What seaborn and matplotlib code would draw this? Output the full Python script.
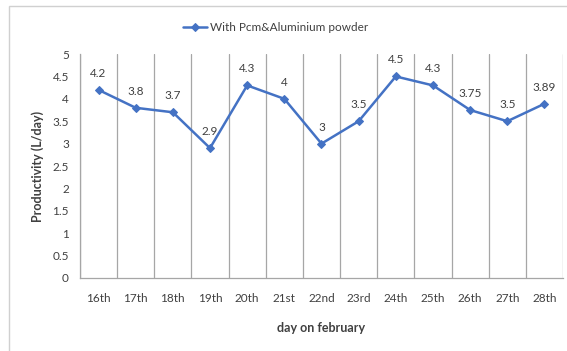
import matplotlib
matplotlib.use("Agg")
import matplotlib.pyplot as plt
from matplotlib.patches import Rectangle
import seaborn as sns
import pandas as pd
import numpy as np

days = ["16th", "17th", "18th", "19th", "20th", "21st", "22nd",
        "23rd", "24th", "25th", "26th", "27th", "28th"]
productivity = [4.2, 3.8, 3.7, 2.9, 4.3, 4.0, 3.0, 3.5, 4.5, 4.3, 3.75, 3.5, 3.89]
value_labels = ["4.2", "3.8", "3.7", "2.9", "4.3", "4", "3", "3.5", "4.5",
                "4.3", "3.75", "3.5", "3.89"]
y_ticks = [0, 0.5, 1, 1.5, 2, 2.5, 3, 3.5, 4, 4.5, 5]
y_tick_labels = ["0", "0.5", "1", "1.5", "2", "2.5", "3", "3.5", "4", "4.5", "5"]
series_name = "With Pcm&Aluminium powder"

sns.set_style("white")
plt.rcParams["font.family"] = ["Lato", "DejaVu Sans"]

df = pd.DataFrame({"day": days, "productivity": productivity})
df["pos"] = np.arange(len(days))

blue = "#4472C4"
text_col = "#404040"

fig = plt.figure(figsize=(5.67, 3.51), dpi=100)
ax = fig.add_axes([0.141, 0.208, 0.852, 0.638])

# chart frame
fig.patches.append(Rectangle((9 / 567, -0.1), 1.2, 1 - 6 / 351 + 0.1,
                             transform=fig.transFigure, fill=False,
                             edgecolor="#d0d0d0", linewidth=1.0))

sns.lineplot(data=df, x="pos", y="productivity", marker="D", markersize=4.3,
             color=blue, linewidth=1.8, markeredgecolor=blue, ax=ax,
             label=series_name, sort=False)

for x, y, t in zip(df["pos"], df["productivity"], value_labels):
    ax.annotate(t, (x, y), xytext=(0, 8), textcoords="offset points",
                ha="center", va="bottom", fontsize=8.5, color=text_col)

ax.set_xlim(-0.5, len(days) - 0.5)
ax.set_ylim(0, 5)
ax.set_xticks(range(len(days)))
ax.set_xticklabels(days, fontsize=8.5, color=text_col)
ax.set_yticks(y_ticks)
ax.set_yticklabels(y_tick_labels, fontsize=8.5, color=text_col)

# vertical gridlines on category boundaries
for b in np.arange(-0.5, len(days), 1.0):
    ax.axvline(b, color="#a6a6a6", linewidth=0.9, zorder=0)

ax.tick_params(axis="x", length=0, pad=11)
ax.tick_params(axis="y", length=0, pad=8)
for side in ["top", "right"]:
    ax.spines[side].set_visible(False)
for side in ["left", "bottom"]:
    ax.spines[side].set_color("#a6a6a6")
    ax.spines[side].set_linewidth(0.9)

ax.set_xlabel("day on february", fontsize=9, fontweight="bold", color=text_col, labelpad=13)
ax.set_ylabel("Productivity (L/day)", fontsize=9, fontweight="bold", color=text_col, labelpad=6)

leg = ax.legend(loc="lower center", bbox_to_anchor=(0.405, 1.045), frameon=False,
                fontsize=8.5, handlelength=2.0, handletextpad=0.3)
for t in leg.get_texts():
    t.set_color(text_col)

fig.savefig("out.png", dpi=100)
